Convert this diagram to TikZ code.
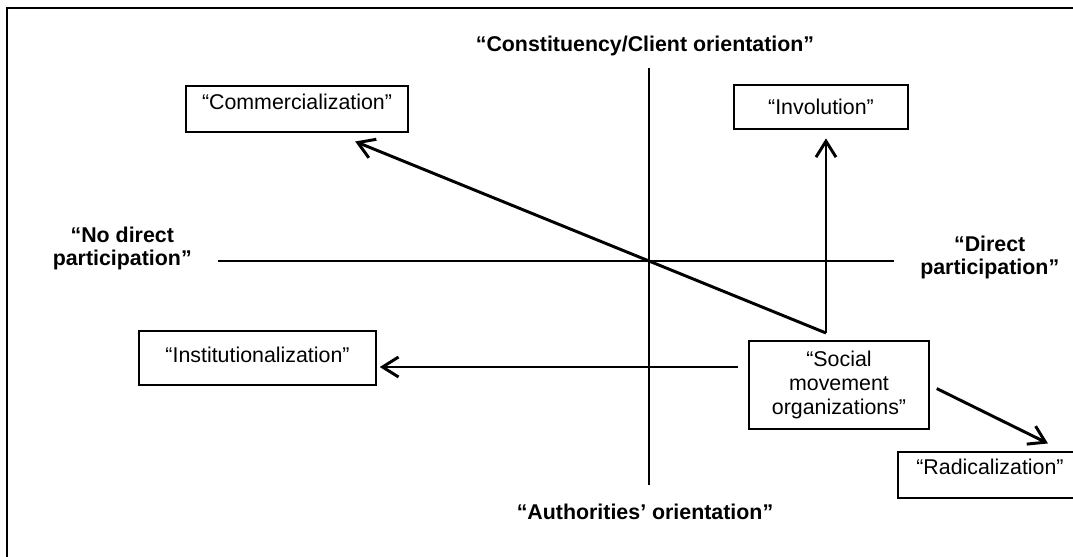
\documentclass[tikz,border=0pt]{standalone}
\usepackage{fontspec}
\setmainfont{Liberation Sans}
\usetikzlibrary{positioning, arrows.meta, calc}

\begin{document}
\begin{tikzpicture}[
  font=\fontsize{15.2pt}{16.8pt}\selectfont,
  box/.style={draw, line width=0.8pt, inner sep=0pt, align=center},
  axlabel/.style={inner sep=0pt, align=center,
                  font=\fontsize{15.2pt}{16.8pt}\selectfont\bfseries},
  axis/.style={line width=1.4pt},
  flow/.style={-{Straight Barb[length=4mm, width=5mm]}, line width=2.1pt},
]

\useasboundingbox (-16.225,-7.375) rectangle (10.6,6.525);
\clip (-16.225,-7.375) rectangle (10.6,6.525);
\draw[line width=1.5pt] (-16.05,-8) rectangle (11,6.325);

% axes
\coordinate (origin) at (0,0);
\coordinate (vtop) at (0,4.825);
\coordinate (vbot) at (0,-5.6);
\coordinate (hleft) at (-10.775,0);
\coordinate (hright) at (6.125,0);

\draw[axis] (vtop) -- (vbot);
\draw[axis] (hleft) -- (hright);

\node[axlabel, above=0.3cm of vtop, xshift=-0.1cm] (client) {“Constituency/Client orientation”};
\node[axlabel, below=0.47cm of vbot, xshift=-0.1cm] (auth) {“Authorities’ orientation”};
\node[axlabel, left=0.65cm of hleft, yshift=0.31cm] (nodirect) {“No direct\\participation”};
\node[axlabel, right=0.65cm of hright, yshift=0.09cm] (direct) {“Direct\\participation”};

% outcomes (text depth pushes the label up inside the box)
\node[box, minimum width=5.55cm, minimum height=1.15cm, text depth=0.35cm] (comm) at (-8.8,3.8) {“Commercialization”};
\node[box, minimum width=4.35cm, minimum height=1.1cm] (inv) at (4.3,3.85) {“Involution”};
\node[box, minimum width=5.925cm, minimum height=1.35cm, text depth=0.15cm] (inst) at (-9.7875,-2.425) {“Institutionalization”};
\node[box, minimum width=4.5cm, minimum height=2.2cm] (smo) at (4.75,-3.1) {“Social\\movement\\organizations”};
\node[box, minimum width=4.6cm, minimum height=1.15cm, text depth=0.4cm] (rad) at (8.525,-5.35) {“Radicalization”};

% paths out of the organizations
\coordinate (pivot) at (4.425,-1.8);
\coordinate (instin) at ([yshift=-0.225cm]inst.east);
\coordinate (radin) at ([shift={(1.45,0.2)}]rad.north);

\draw[flow, shorten >=0.22cm] (pivot) -- (pivot |- inv.south);
\draw[flow] (pivot) -- ($(pivot)!2.66!(origin)$);
\draw[flow, shorten <=0.25cm, shorten >=0.08cm] (instin -| smo.west) -- (instin);
\draw[flow, shorten <=0.2cm] (smo.east) -- (radin);

\end{tikzpicture}
\end{document}
